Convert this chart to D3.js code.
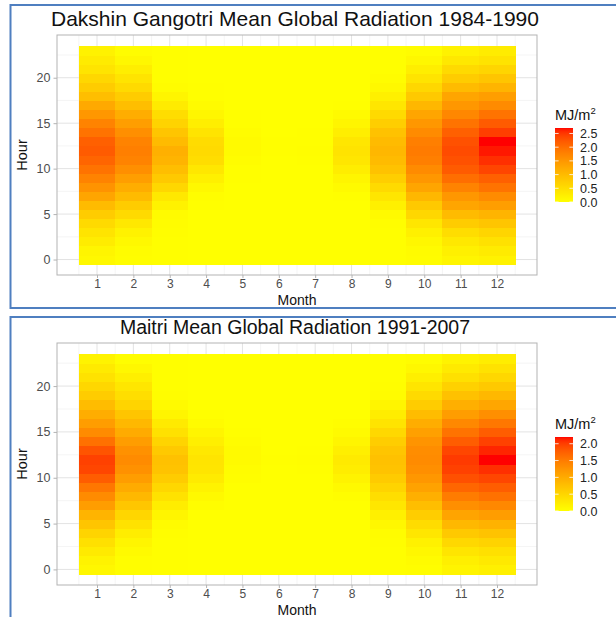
<!DOCTYPE html>
<html>
<head>
<meta charset="utf-8">
<script src="https://cdn.jsdelivr.net/npm/d3@7"></script>
<style>
  body { margin: 0; background: #fff; }
  svg { display: block; }
  text { font-family: "Liberation Sans", Arial, sans-serif; }
</style>
</head>
<body>
<svg id="chart" width="616" height="617"></svg>
<script>
// Months on the x axis, hours of the day on the y axis
const months = [1, 2, 3, 4, 5, 6, 7, 8, 9, 10, 11, 12];
const hours = [0, 1, 2, 3, 4, 5, 6, 7, 8, 9, 10, 11, 12, 13, 14, 15, 16, 17, 18, 19, 20, 21, 22, 23];
const yTickValues = [0, 5, 10, 15, 20];

// Mean global radiation (MJ/m²), one row per month, hours 0..23
const gangotri = [
  [0.10,0.15,0.28,0.40,0.55,0.75,1.00,1.30,1.55,1.75,1.95,2.10,2.20,2.15,1.95,1.75,1.50,1.25,0.95,0.75,0.60,0.40,0.30,0.20],
  [0.03,0.05,0.10,0.20,0.35,0.55,0.75,1.00,1.20,1.40,1.60,1.75,1.80,1.75,1.60,1.40,1.20,0.95,0.75,0.55,0.40,0.25,0.12,0.05],
  [0.01,0.01,0.02,0.03,0.04,0.06,0.20,0.35,0.60,0.80,0.95,1.10,1.15,1.00,0.85,0.65,0.50,0.30,0.15,0.05,0.02,0.01,0.01,0.01],
  [0.00,0.00,0.00,0.00,0.00,0.00,0.01,0.03,0.10,0.22,0.36,0.50,0.55,0.52,0.40,0.26,0.14,0.06,0.02,0.01,0.00,0.00,0.00,0.00],
  [0.00,0.00,0.00,0.00,0.00,0.00,0.00,0.00,0.00,0.01,0.02,0.05,0.08,0.08,0.05,0.02,0.01,0.00,0.00,0.00,0.00,0.00,0.00,0.00],
  [0.00,0.00,0.00,0.00,0.00,0.00,0.00,0.00,0.00,0.00,0.00,0.00,0.01,0.01,0.00,0.00,0.00,0.00,0.00,0.00,0.00,0.00,0.00,0.00],
  [0.00,0.00,0.00,0.00,0.00,0.00,0.00,0.00,0.00,0.00,0.00,0.01,0.03,0.02,0.01,0.00,0.00,0.00,0.00,0.00,0.00,0.00,0.00,0.00],
  [0.00,0.00,0.00,0.00,0.00,0.00,0.00,0.02,0.07,0.15,0.27,0.38,0.42,0.38,0.25,0.15,0.07,0.02,0.00,0.00,0.00,0.00,0.00,0.00],
  [0.01,0.01,0.01,0.02,0.03,0.08,0.22,0.37,0.55,0.72,0.90,1.00,1.05,1.00,0.90,0.72,0.55,0.38,0.22,0.10,0.04,0.02,0.01,0.01],
  [0.04,0.06,0.12,0.22,0.38,0.60,0.80,1.05,1.30,1.50,1.65,1.80,1.85,1.80,1.65,1.50,1.30,1.05,0.80,0.60,0.40,0.25,0.12,0.05],
  [0.15,0.22,0.35,0.50,0.75,1.00,1.30,1.50,1.75,2.00,2.20,2.30,2.35,2.30,2.15,1.95,1.70,1.50,1.30,1.00,0.75,0.55,0.35,0.20],
  [0.20,0.30,0.45,0.62,0.85,1.10,1.40,1.65,1.95,2.15,2.40,2.55,2.65,2.70,2.45,2.20,1.95,1.65,1.40,1.10,0.85,0.62,0.42,0.28]
];

const maitri = [
  [0.10,0.15,0.25,0.38,0.52,0.70,0.90,1.15,1.35,1.55,1.78,1.95,1.98,1.85,1.60,1.35,1.15,0.98,0.80,0.62,0.48,0.35,0.25,0.15],
  [0.02,0.03,0.06,0.12,0.22,0.35,0.50,0.68,0.85,1.00,1.15,1.28,1.35,1.28,1.15,1.00,0.85,0.70,0.52,0.40,0.30,0.20,0.10,0.03],
  [0.01,0.01,0.01,0.01,0.02,0.05,0.12,0.22,0.35,0.48,0.62,0.72,0.75,0.65,0.52,0.37,0.25,0.12,0.06,0.02,0.01,0.01,0.01,0.01],
  [0.00,0.00,0.00,0.00,0.00,0.00,0.00,0.02,0.07,0.15,0.24,0.32,0.33,0.28,0.20,0.12,0.05,0.01,0.00,0.00,0.00,0.00,0.00,0.00],
  [0.00,0.00,0.00,0.00,0.00,0.00,0.00,0.00,0.00,0.00,0.02,0.04,0.06,0.06,0.04,0.01,0.00,0.00,0.00,0.00,0.00,0.00,0.00,0.00],
  [0.00,0.00,0.00,0.00,0.00,0.00,0.00,0.00,0.00,0.00,0.00,0.00,0.01,0.00,0.00,0.00,0.00,0.00,0.00,0.00,0.00,0.00,0.00,0.00],
  [0.00,0.00,0.00,0.00,0.00,0.00,0.00,0.00,0.00,0.00,0.00,0.01,0.02,0.01,0.00,0.00,0.00,0.00,0.00,0.00,0.00,0.00,0.00,0.00],
  [0.00,0.00,0.00,0.00,0.00,0.00,0.00,0.00,0.02,0.07,0.15,0.22,0.25,0.20,0.12,0.06,0.02,0.00,0.00,0.00,0.00,0.00,0.00,0.00],
  [0.01,0.01,0.01,0.02,0.04,0.10,0.18,0.30,0.40,0.52,0.63,0.72,0.75,0.70,0.60,0.47,0.33,0.22,0.12,0.04,0.02,0.01,0.01,0.01],
  [0.03,0.05,0.10,0.17,0.30,0.43,0.60,0.78,0.95,1.10,1.22,1.30,1.35,1.32,1.25,1.12,0.98,0.80,0.62,0.45,0.32,0.20,0.10,0.04],
  [0.13,0.20,0.32,0.47,0.65,0.85,1.08,1.30,1.50,1.70,1.88,1.98,2.02,1.95,1.78,1.58,1.38,1.15,0.95,0.75,0.55,0.38,0.25,0.15],
  [0.18,0.27,0.38,0.53,0.72,0.92,1.15,1.38,1.60,1.78,1.95,2.08,2.20,2.12,1.98,1.78,1.55,1.30,1.05,0.85,0.65,0.48,0.35,0.22]
];

const gangotriBreaks = [0, 0.5, 1.0, 1.5, 2.0, 2.5];
const maitriBreaks = [0, 0.5, 1.0, 1.5, 2.0];

const panels = [
  { title: "Dakshin Gangotri Mean Global Radiation 1984-1990", data: gangotri, breaks: gangotriBreaks,
    titleSize: 21, frameTop: 5, frameBottom: 308, titleY: 26, plotTop: 35, plotBottom: 275, id: "g" },
  { title: "Maitri Mean Global Radiation 1991-2007", data: maitri, breaks: maitriBreaks,
    titleSize: 19.5, frameTop: 317, frameBottom: 760, titleY: 334, plotTop: 343, plotBottom: 585, id: "m" }
];

const svg = d3.select("#chart");
svg.append("rect").attr("width", 616).attr("height", 617).attr("fill", "#fff");

const plotLeft = 57, plotRight = 537;
const gridColor = "#E3E3E3";
const axisGrey = "#B3B3B3";
const textGrey = "#4D4D4D";

panels.forEach(p => {
  const g = svg.append("g");

  // outer frame around each chart
  g.append("rect")
    .attr("x", 10.5).attr("y", p.frameTop)
    .attr("width", 800).attr("height", p.frameBottom - p.frameTop)
    .attr("fill", "#fff").attr("stroke", "#4F7FC0").attr("stroke-width", 2);

  g.append("text")
    .attr("x", 295).attr("y", p.titleY)
    .attr("text-anchor", "middle").attr("font-size", p.titleSize).attr("fill", "#111")
    .text(p.title);

  // continuous scales with 5% expansion around the tile extent
  const x = d3.scaleLinear().domain([0.5 - 0.6, 12.5 + 0.6]).range([plotLeft, plotRight]);
  const y = d3.scaleLinear().domain([-0.5 - 1.2, 23.5 + 1.2]).range([p.plotBottom, p.plotTop]);

  const flat = p.data.flatMap((row, mi) => row.map((v, h) => ({ month: months[mi], hour: hours[h], value: v })));
  const maxVal = d3.max(flat, d => d.value);
  const color = d3.scaleSequential(d3.interpolateLab("#FFFF00", "#FF0000")).domain([0, maxVal]);

  // panel grid
  const minorX = d3.range(0.5, 13, 1);
  const minorY = [-2.5, 2.5, 7.5, 12.5, 17.5, 22.5].filter(v => y(v) <= p.plotBottom && y(v) >= p.plotTop);
  g.append("g").selectAll("line").data(minorX).join("line")
    .attr("x1", d => x(d)).attr("x2", d => x(d)).attr("y1", p.plotTop).attr("y2", p.plotBottom)
    .attr("stroke", "#EFEFEF").attr("stroke-width", 0.6);
  g.append("g").selectAll("line").data(minorY).join("line")
    .attr("y1", d => y(d)).attr("y2", d => y(d)).attr("x1", plotLeft).attr("x2", plotRight)
    .attr("stroke", "#EFEFEF").attr("stroke-width", 0.6);
  g.append("g").selectAll("line").data(months).join("line")
    .attr("x1", d => x(d)).attr("x2", d => x(d)).attr("y1", p.plotTop).attr("y2", p.plotBottom)
    .attr("stroke", gridColor).attr("stroke-width", 1);
  g.append("g").selectAll("line").data(yTickValues).join("line")
    .attr("y1", d => y(d)).attr("y2", d => y(d)).attr("x1", plotLeft).attr("x2", plotRight)
    .attr("stroke", gridColor).attr("stroke-width", 1);

  // heatmap tiles
  g.append("g").attr("shape-rendering", "crispEdges").selectAll("rect").data(flat).join("rect")
    .attr("x", d => x(d.month - 0.5))
    .attr("y", d => y(d.hour + 0.5))
    .attr("width", x(1.5) - x(0.5) + 0.5)
    .attr("height", y(-0.5) - y(0.5) + 0.5)
    .attr("fill", d => color(d.value));

  // panel border
  g.append("rect")
    .attr("x", plotLeft).attr("y", p.plotTop)
    .attr("width", plotRight - plotLeft).attr("height", p.plotBottom - p.plotTop)
    .attr("fill", "none").attr("stroke", axisGrey).attr("stroke-width", 1);

  // axes
  const xAxis = d3.axisBottom(x).tickValues(months).tickSize(3).tickPadding(1.5);
  const xg = g.append("g").attr("transform", `translate(0,${p.plotBottom})`).call(xAxis);
  const yAxis = d3.axisLeft(y).tickValues(yTickValues).tickSize(3.5).tickPadding(3);
  const yg = g.append("g").attr("transform", `translate(${plotLeft},0)`).call(yAxis);
  [xg, yg].forEach(a => {
    a.select(".domain").remove();
    a.selectAll(".tick line").attr("stroke", axisGrey);
    a.selectAll(".tick text").attr("fill", textGrey).attr("font-size", 12.5)
      .attr("font-family", "Liberation Sans, Arial, sans-serif");
  });
  xg.selectAll(".tick text").attr("font-size", 12);

  g.append("text")
    .attr("x", (plotLeft + plotRight) / 2).attr("y", p.plotBottom + 29.5)
    .attr("text-anchor", "middle").attr("font-size", 14).attr("fill", "#111")
    .text("Month");
  const midY = (p.plotTop + p.plotBottom) / 2;
  g.append("text")
    .attr("transform", `translate(27,${midY}) rotate(-90)`)
    .attr("text-anchor", "middle").attr("font-size", 14.5).attr("fill", "#111")
    .text("Hour");

  // colour bar legend
  const barTop = midY - 27, barBottom = midY + 47, barX = 555, barW = 18;
  const gradId = "grad-" + p.id;
  const grad = svg.append("defs").append("linearGradient").attr("id", gradId)
    .attr("x1", 0).attr("y1", 1).attr("x2", 0).attr("y2", 0);
  d3.range(0, 1.0001, 0.02).forEach(t => {
    grad.append("stop").attr("offset", t).attr("stop-color", color(t * maxVal));
  });
  g.append("rect").attr("x", barX).attr("y", barTop).attr("width", barW).attr("height", barBottom - barTop)
    .attr("fill", `url(#${gradId})`);
  const ly = d3.scaleLinear().domain([0, maxVal]).range([barBottom, barTop]);
  g.append("g").selectAll("line").data(p.breaks).join("line")
    .attr("x1", barX).attr("x2", barX + barW / 5)
    .attr("y1", d => ly(d)).attr("y2", d => ly(d))
    .attr("stroke", "#fff").attr("stroke-width", 0.8);
  g.append("g").selectAll("line").data(p.breaks).join("line")
    .attr("x1", barX + barW - barW / 5).attr("x2", barX + barW)
    .attr("y1", d => ly(d)).attr("y2", d => ly(d))
    .attr("stroke", "#fff").attr("stroke-width", 0.8);
  g.append("g").selectAll("text").data(p.breaks).join("text")
    .attr("x", barX + barW + 7).attr("y", d => ly(d))
    .attr("dy", "0.36em").attr("font-size", 12.5).attr("fill", "#222")
    .text(d => d3.format(".1f")(d));
  const lt = g.append("text").attr("x", barX).attr("y", barTop - 8)
    .attr("font-size", 14.5).attr("fill", "#111");
  lt.append("tspan").text("MJ/m");
  lt.append("tspan").attr("font-size", 9.5).attr("dy", -6).text("2");
});
</script>
</body>
</html>
